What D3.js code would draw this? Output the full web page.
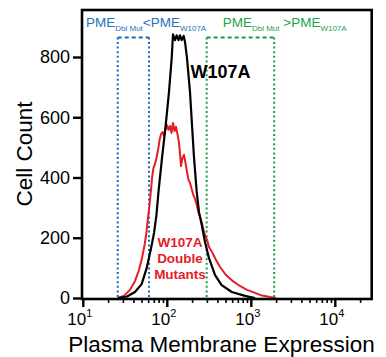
<!DOCTYPE html>
<html><head><meta charset="utf-8">
<script src="https://cdn.jsdelivr.net/npm/d3@7"></script>
<style>body{margin:0;background:#fff}svg{display:block}text{font-family:"Liberation Sans",Arial,sans-serif}</style>
</head><body>
<svg id="c" width="386" height="357"></svg>
<script>
// W107A (black) histogram
const w107aX = [25.9,33.1,41.2,49.5,56.9,63.4,69.5,74.3,78.5,86.5,95.7,104.7,112.8,116.9,123.5,129.4,135.9,141.6,148.3,156.6,162.4,171.4,186.2,196.8,208,223.9,238.5,257,281,313,370,444,585,841,1107];
const w107aCount = [0,5,20,46,100,159,216,276,352,465,574,684,797,875,856,872,856,872,856,870,850,797,684,574,465,352,285,242,186,133,76,43,20,7,0];
// W107A double mutants (red) histogram
const dblX = [25.9,30.6,35.9,41.2,46.0,50.0,53.6,56.5,58.9,61.4,63.9,66.2,68.5,71.4,74.8,78.2,80.8,84.1,87.7,91.4,95.3,99.1,103.3,107.7,112.2,116.9,121.8,127.0,132.2,137.8,141.6,145.5,151.7,158.1,164.8,171.7,178.8,186.4,195.1,204.0,213.7,224.0,234.0,245.0,256.7,269.8,281.2,297.1,313.5,340.4,380.1,424,500,604,732,888,1107,1340,1670,1968];
const dblCount = [0,8,27,56,93,133,176,219,266,309,358,405,432,445,468,498,524,544,551,538,561,574,558,571,548,581,554,568,544,515,481,438,465,475,448,418,392,382,362,342,329,309,285,269,252,226,209,193,169,153,126,103,76,56,40,27,17,8,3,0];
const yTicks = [0,200,400,600,800];
const xMajor = [10,100,1000,10000];
const gateLow = [25.7,60.5];
const gateHigh = [294,1870];
const gateTop = 865;
const labelW107A = "W107A";
const labelDbl = ["W107A","Double","Mutants"];

const svg = d3.select('#c');
const x = d3.scaleLog().domain([Math.pow(10,0.9845), Math.pow(10,4.433)]).range([82,371.7]);
const y = d3.scaleLinear().domain([0,956]).range([298,10]);

const blue = "#1c68b0", green = "#1e9a4a", red = "#e41e26";

// gates
function gate(g, col){
  const grp = svg.append('g').attr('stroke', col).attr('stroke-width', 2).attr('fill','none');
  g.forEach(v => grp.append('line').attr('x1', x(v)).attr('x2', x(v)).attr('y1', y(gateTop)).attr('y2', y(0)).attr('stroke-dasharray','2,2.6'));
  grp.append('line').attr('x1', x(g[0])).attr('x2', x(g[1])).attr('y1', y(gateTop)).attr('y2', y(gateTop)).attr('stroke-dasharray','4,3');
}
gate(gateLow, blue);
gate(gateHigh, green);

const line = d3.line().x(d => x(d[0])).y(d => y(d[1]));
svg.append('path').datum(d3.zip(dblX, dblCount)).attr('d', line).attr('fill','none').attr('stroke', red).attr('stroke-width', 2).attr('stroke-linejoin','round');
svg.append('path').datum(d3.zip(w107aX, w107aCount)).attr('d', line).attr('fill','none').attr('stroke', '#000').attr('stroke-width', 2.2).attr('stroke-linejoin','round');

// frame
svg.append('rect').attr('x', 82).attr('y', 10).attr('width', 371.7-82).attr('height', 299-10).attr('fill','none').attr('stroke','#000').attr('stroke-width', 2.6);

// y axis
const ya = svg.append('g').attr('transform','translate(82,0)')
  .call(d3.axisLeft(y).tickValues(yTicks).tickSize(9).tickPadding(3).tickFormat(d3.format('d')));
ya.select('.domain').remove();
ya.selectAll('line').attr('stroke','#000').attr('stroke-width',2.4);
ya.selectAll('text').attr('font-size',18).attr('fill','#000').style('font-family','"Liberation Sans",Arial,sans-serif');

// x axis ticks
const xt = x.ticks();
const xg = svg.append('g');
xt.forEach(t => {
  const major = xMajor.includes(t);
  xg.append('line').attr('x1', x(t)).attr('x2', x(t)).attr('y1', 299).attr('y2', major ? 307 : 303)
    .attr('stroke','#000').attr('stroke-width', major ? 2.4 : 1.6);
});
xMajor.forEach(t => {
  const tx = xg.append('text').attr('x', x(t) - 16).attr('y', 325).attr('font-size', 17).attr('fill','#000');
  tx.append('tspan').text('10');
  tx.append('tspan').attr('font-size', 11).attr('dy', -8).text(String(Math.round(Math.log10(t))));
});

// axis titles
svg.append('text').attr('transform','translate(32,154) rotate(-90)').attr('text-anchor','middle').attr('font-size',22.5).attr('fill','#000').text('Cell Count');
svg.append('text').attr('x', 221.5).attr('y', 352).attr('text-anchor','middle').attr('font-size',22.5).attr('fill','#000').text('Plasma Membrane Expression');

// gate labels
function gateLabel(x0, col, op){
  const t = svg.append('text').attr('x', x0).attr('y', 26.7).attr('font-size', 13.5).attr('fill', col);
  t.append('tspan').text('PME');
  t.append('tspan').attr('font-size', 8).attr('dy', 3.8).text('Dbl Mut');
  t.append('tspan').attr('dy', -3.8).text(op + 'PME');
  t.append('tspan').attr('font-size', 8).attr('dy', 3.8).text('W107A');
}
gateLabel(86, "#1f73b8", '<');
gateLabel(222.7, "#22a24c", '\u00a0>');

// series labels
svg.append('text').attr('x', 190.5).attr('y', 77.5).attr('font-size', 18).attr('font-weight','bold').attr('fill','#000').text(labelW107A);
const rt = svg.append('text').attr('text-anchor','middle').attr('font-size', 13.5).attr('font-weight','bold').attr('fill', red);
labelDbl.forEach((s,i) => rt.append('tspan').attr('x', 180).attr('y', 246.5 + i*16).text(s));
</script>
</body></html>
